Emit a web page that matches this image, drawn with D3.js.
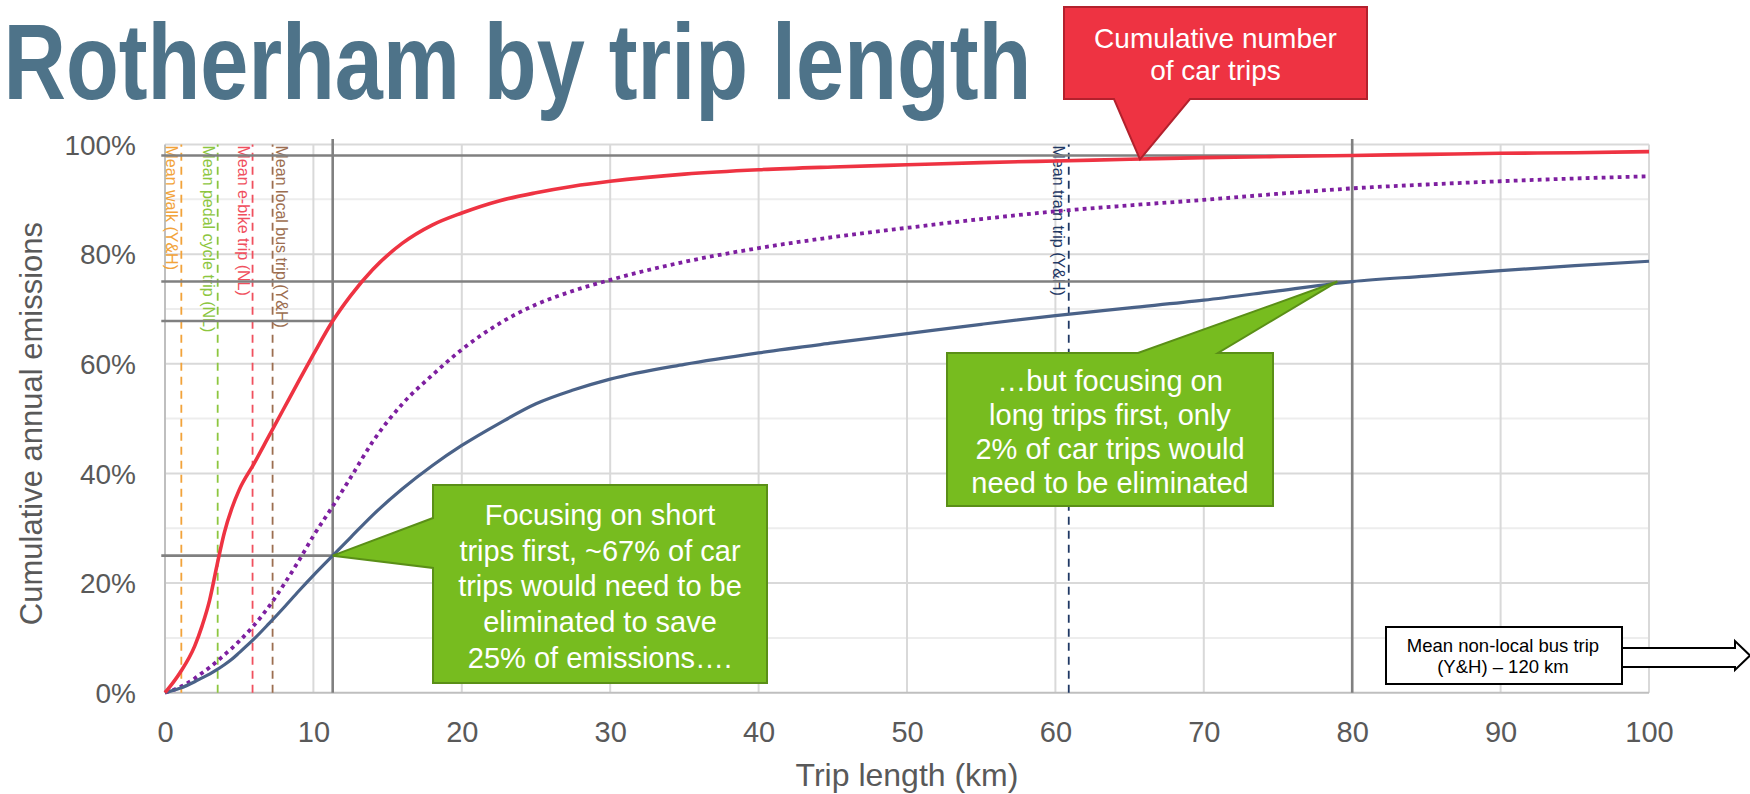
<!DOCTYPE html>
<html><head><meta charset="utf-8">
<script src="https://cdn.jsdelivr.net/npm/d3@7"></script>
<style>
body{margin:0;background:#fff;overflow:hidden;}
svg{display:block;}
text{font-family:"Liberation Sans",Arial,sans-serif;}
</style>
</head><body>
<svg id="chart" width="1750" height="794"></svg>
<script>
// ---------------- DATA ----------------
const tripKm = [0,1,2,2.5,3,3.5,4,4.5,5,6,7,8,9,10,11.3,12.5,14,16,18,20,22.5,25,27.5,30,35,40,45,50,55,60,65,70,75,80,85,90,95,100];
// Cumulative number of car trips (%)
const carTrips = [0,3.6,8.5,12.2,16.8,23.2,29.2,33.6,37,41.8,46.8,51.8,56.8,61.7,67.8,72.4,77.2,82.0,85.3,87.5,89.7,91.2,92.4,93.3,94.6,95.4,95.9,96.3,96.7,97.0,97.3,97.6,97.8,98.0,98.2,98.4,98.5,98.7];
// Cumulative distance (%) - dotted purple
const cumulativeDistance = [0,1.0,2.6,3.6,4.6,5.7,6.9,8.1,9.4,12.3,15.7,19.7,24.0,28.6,34,39.2,45.8,52.7,57.9,62.6,67.3,70.8,73.3,75.3,78.6,81.1,83.1,84.8,86.4,87.8,88.9,89.9,91.0,92.0,92.7,93.3,93.8,94.2];
// Cumulative annual emissions (%)
const cumulativeEmissions = [0,0.8,2.0,2.7,3.4,4.2,5.1,6.1,7.3,9.8,12.6,15.5,18.5,21.4,25,28.3,32.4,37.2,41.4,45.1,49.1,52.7,55.2,57.2,59.9,62,63.8,65.5,67.2,68.8,70.2,71.6,73.3,75,76,77,77.9,78.7];

const xTicks = [0,10,20,30,40,50,60,70,80,90,100];
const yTicks = [0,20,40,60,80,100];
const yMinorTicks = [10,30,50,70,90];

const meanLabels = ["Mean walk (Y&H)","Mean pedal cycle trip (NL)","Mean e-bike trip (NL)","Mean local bus trip (Y&H)","Mean train trip (Y&H)"];
const meanKm = [1.1, 3.55, 5.9, 7.25, 60.9];

// reference (dark grey) lines
const refHLevel = [98, 75, 67.8, 25];
const refHEndKm = [80, 80, 11.3, 11.3];
const refVKm = [11.3, 80];

const titleText = "Rotherham by trip length";
const callRedText = ["Cumulative number","of car trips"];
const callShortText = ["Focusing on short","trips first, ~67% of car","trips would need to be","eliminated to save","25% of emissions…."];
const callLongText = ["…but focusing on","long trips first, only","2% of car trips would","need to be eliminated"];
const busText = ["Mean non-local bus trip","(Y&H) – 120 km"];

// ---------------- STYLE ----------------
const meanColors = ["#F2A33A","#8DC63F","#F0505E","#9C6E50","#1F3864"];
const meanLabelOffset = [-15,-15,-15,3,-16];

const svg = d3.select("#chart");
const x = d3.scaleLinear().domain([0,100]).range([165,1649]);
const y = d3.scaleLinear().domain([0,100]).range([692.7,144.5]);

// Title (Arial bold, horizontally condensed to the reference width)
const title = svg.append("text")
  .attr("font-weight","bold").attr("font-size",108).attr("fill","#4E7389")
  .text(titleText);
const tw = title.node().getComputedTextLength();
title.attr("transform",`translate(3.5,99) scale(${1028/tw},1)`);

// Gridlines
const g = svg.append("g");
g.selectAll(".ymin").data(yMinorTicks).join("line")
  .attr("x1",x(0)).attr("x2",x(100)).attr("y1",d=>y(d)).attr("y2",d=>y(d))
  .attr("stroke","#EDEDED").attr("stroke-width",2);
g.selectAll(".ymaj").data(yTicks.filter(d=>d>0)).join("line")
  .attr("x1",x(0)).attr("x2",x(100)).attr("y1",d=>y(d)).attr("y2",d=>y(d))
  .attr("stroke","#D9D9D9").attr("stroke-width",2);
g.selectAll(".xg").data(xTicks.filter(d=>d>0)).join("line")
  .attr("x1",d=>x(d)).attr("x2",d=>x(d)).attr("y1",y(0)).attr("y2",y(100))
  .attr("stroke","#D9D9D9").attr("stroke-width",2);
g.append("line").attr("x1",x(0)).attr("x2",x(0)).attr("y1",y(0)).attr("y2",y(100)).attr("stroke","#BFBFBF").attr("stroke-width",2);
g.append("line").attr("x1",x(0)).attr("x2",x(100)).attr("y1",y(0)).attr("y2",y(0)).attr("stroke","#BFBFBF").attr("stroke-width",2);

// Axes
const xAxis = d3.axisBottom(x).tickValues(xTicks).tickSize(0).tickPadding(0).tickFormat(d3.format("d"));
const xa = svg.append("g").attr("transform",`translate(0,${y(0)})`).call(xAxis);
xa.select(".domain").remove();
xa.selectAll("text").attr("font-size",29).attr("fill","#595959").attr("dy",null).attr("y",49)
  .style("font-family",'"Liberation Sans",Arial,sans-serif');

const yAxis = d3.axisLeft(y).tickValues(yTicks).tickSize(0).tickPadding(0).tickFormat(d=>d+"%");
const ya = svg.append("g").attr("transform",`translate(136,0)`).call(yAxis);
ya.select(".domain").remove();
ya.selectAll("text").attr("font-size",28).attr("fill","#595959").attr("x",0).attr("dy","0.35em")
  .style("font-family",'"Liberation Sans",Arial,sans-serif');

// Axis titles
svg.append("text").attr("x",(x(0)+x(100))/2).attr("y",786).attr("text-anchor","middle")
  .attr("font-size",32).attr("fill","#595959").text("Trip length (km)");
svg.append("text").attr("transform",`translate(42,${(y(0)+y(100))/2+5}) rotate(-90)`).attr("text-anchor","middle")
  .attr("font-size",31).attr("fill","#595959").text("Cumulative annual emissions");

// Mean trip dashed lines
const mg = svg.append("g");
meanKm.forEach((km,i)=>{
  mg.append("line").attr("x1",x(km)).attr("x2",x(km)).attr("y1",y(0)).attr("y2",y(100))
    .attr("stroke",meanColors[i]).attr("stroke-width",1.8).attr("stroke-dasharray","8,6");
  mg.append("text").attr("transform",`translate(${x(km)+meanLabelOffset[i]},${y(100)+1}) rotate(90)`)
    .attr("font-size",16).attr("fill",meanColors[i]).text(meanLabels[i]);
});

// Reference dark lines
const rg = svg.append("g");
refHLevel.forEach((lv,i)=>{
  rg.append("line").attr("x1",x(-0.25)).attr("x2",x(refHEndKm[i])).attr("y1",y(lv)).attr("y2",y(lv))
    .attr("stroke","#808080").attr("stroke-width",2.6);
});
refVKm.forEach(km=>{
  rg.append("line").attr("x1",x(km)).attr("x2",x(km)).attr("y1",y(0)).attr("y2",y(101))
    .attr("stroke","#808080").attr("stroke-width",2.6);
});

// Series lines
const line = (vals)=>d3.line().x((d,i)=>x(tripKm[i])).y(d=>y(d)).curve(d3.curveMonotoneX)(vals);
svg.append("path").attr("d",line(cumulativeDistance)).attr("fill","none")
  .attr("stroke","#7E1FA0").attr("stroke-width",3.8).attr("stroke-dasharray","3.8,4.2");
svg.append("path").attr("d",line(cumulativeEmissions)).attr("fill","none")
  .attr("stroke","#4A6288").attr("stroke-width",3.2);
svg.append("path").attr("d",line(carTrips)).attr("fill","none")
  .attr("stroke","#EE3342").attr("stroke-width",3.6);

// ---------------- CALLOUTS ----------------
const redTip = [x(65.7), y(97.3)];
svg.append("path").attr("d",`M1064,7 H1367 V99 H1190 L${redTip[0]},${redTip[1]} L1114,99 H1064 Z`)
  .attr("fill","#EE3342").attr("stroke","#B3212D").attr("stroke-width",2);
callRedText.forEach((t,i)=>{
  svg.append("text").attr("x",1215.5).attr("y",48+i*32).attr("text-anchor","middle")
    .attr("font-size",28).attr("fill","#fff").text(t);
});

const shortTip = [x(11.3), y(25)];
svg.append("path").attr("d",`M433,485 H767 V683 H433 V568 L${shortTip[0]},${shortTip[1]} L433,518 Z`)
  .attr("fill","#77BC1F").attr("stroke","#5A8F17").attr("stroke-width",2);
callShortText.forEach((t,i)=>{
  svg.append("text").attr("x",600).attr("y",525+i*35.7).attr("text-anchor","middle")
    .attr("font-size",29).attr("fill","#fff").text(t);
});

const longTip = [x(79), y(75)];
svg.append("path").attr("d",`M947,353 H1138 L${longTip[0]},${longTip[1]} L1218,353 H1273 V506 H947 Z`)
  .attr("fill","#77BC1F").attr("stroke","#5A8F17").attr("stroke-width",2);
callLongText.forEach((t,i)=>{
  svg.append("text").attr("x",1110).attr("y",391+i*34).attr("text-anchor","middle")
    .attr("font-size",29).attr("fill","#fff").text(t);
});

// Non-local bus box + arrow
svg.append("path").attr("d","M1622,648 H1735 V641 L1750,655.5 L1735,670 V667 H1622")
  .attr("fill","#fff").attr("stroke","#000").attr("stroke-width",2);
svg.append("rect").attr("x",1386).attr("y",627).attr("width",236).attr("height",57)
  .attr("fill","#fff").attr("stroke","#000").attr("stroke-width",2);
busText.forEach((t,i)=>{
  svg.append("text").attr("x",1503).attr("y",652+i*21).attr("text-anchor","middle")
    .attr("font-size",18.5).attr("fill","#000").text(t);
});
</script>
</body></html>
